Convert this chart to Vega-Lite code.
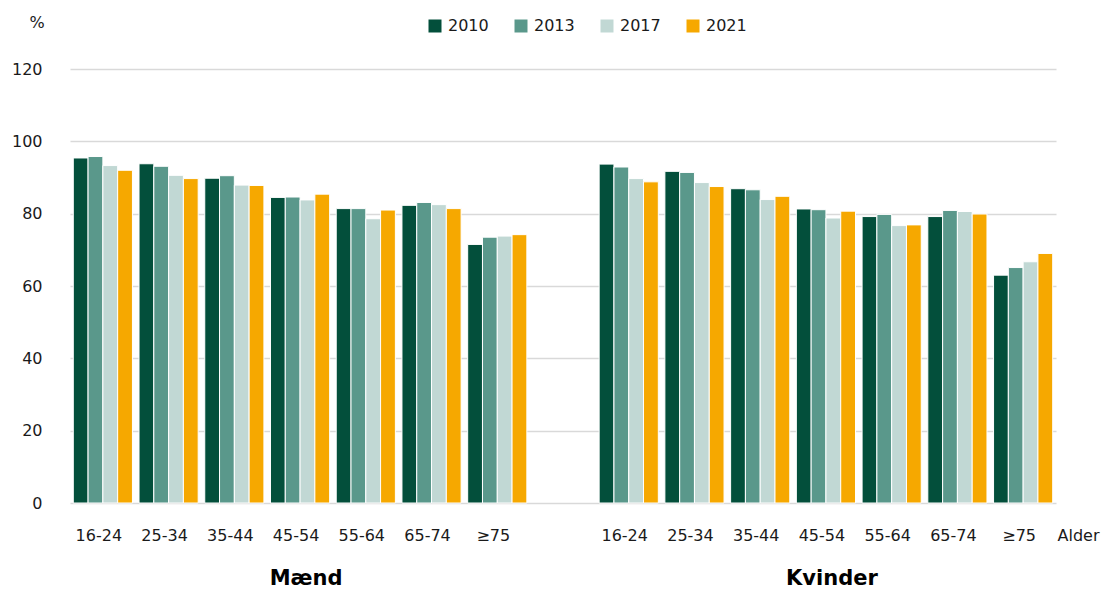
{
  "$schema": "https://vega.github.io/schema/vega-lite/v6.json",
  "width": 986,
  "height": 434,
  "autosize": {"type": "none"},
  "padding": {"left": 70, "top": 69, "right": 51, "bottom": 86},
  "background": "white",
  "config": {
    "font": "DejaVu Sans",
    "view": {"stroke": null},
    "axis": {"labelColor": "#1a1a1a", "titleColor": "#1a1a1a", "labelFont": "DejaVu Sans", "titleFont": "DejaVu Sans"},
    "legend": {"labelFont": "DejaVu Sans"}
  },
  "datasets": {
    "bars": [
      {"slot": "M|16-24", "year": "2010", "value": 95.4},
      {"slot": "M|16-24", "year": "2013", "value": 95.8},
      {"slot": "M|16-24", "year": "2017", "value": 93.3},
      {"slot": "M|16-24", "year": "2021", "value": 92.0},
      {"slot": "M|25-34", "year": "2010", "value": 93.8},
      {"slot": "M|25-34", "year": "2013", "value": 93.1},
      {"slot": "M|25-34", "year": "2017", "value": 90.6},
      {"slot": "M|25-34", "year": "2021", "value": 89.7},
      {"slot": "M|35-44", "year": "2010", "value": 89.8},
      {"slot": "M|35-44", "year": "2013", "value": 90.5},
      {"slot": "M|35-44", "year": "2017", "value": 87.9},
      {"slot": "M|35-44", "year": "2021", "value": 87.8},
      {"slot": "M|45-54", "year": "2010", "value": 84.5},
      {"slot": "M|45-54", "year": "2013", "value": 84.6},
      {"slot": "M|45-54", "year": "2017", "value": 83.8},
      {"slot": "M|45-54", "year": "2021", "value": 85.4},
      {"slot": "M|55-64", "year": "2010", "value": 81.4},
      {"slot": "M|55-64", "year": "2013", "value": 81.4},
      {"slot": "M|55-64", "year": "2017", "value": 78.6},
      {"slot": "M|55-64", "year": "2021", "value": 81.0},
      {"slot": "M|65-74", "year": "2010", "value": 82.3},
      {"slot": "M|65-74", "year": "2013", "value": 83.1},
      {"slot": "M|65-74", "year": "2017", "value": 82.5},
      {"slot": "M|65-74", "year": "2021", "value": 81.4},
      {"slot": "M|≥75", "year": "2010", "value": 71.5},
      {"slot": "M|≥75", "year": "2013", "value": 73.5},
      {"slot": "M|≥75", "year": "2017", "value": 73.8},
      {"slot": "M|≥75", "year": "2021", "value": 74.2},
      {"slot": "K|16-24", "year": "2010", "value": 93.7},
      {"slot": "K|16-24", "year": "2013", "value": 92.9},
      {"slot": "K|16-24", "year": "2017", "value": 89.7},
      {"slot": "K|16-24", "year": "2021", "value": 88.8},
      {"slot": "K|25-34", "year": "2010", "value": 91.7},
      {"slot": "K|25-34", "year": "2013", "value": 91.4},
      {"slot": "K|25-34", "year": "2017", "value": 88.6},
      {"slot": "K|25-34", "year": "2021", "value": 87.5},
      {"slot": "K|35-44", "year": "2010", "value": 86.9},
      {"slot": "K|35-44", "year": "2013", "value": 86.6},
      {"slot": "K|35-44", "year": "2017", "value": 83.9},
      {"slot": "K|35-44", "year": "2021", "value": 84.8},
      {"slot": "K|45-54", "year": "2010", "value": 81.3},
      {"slot": "K|45-54", "year": "2013", "value": 81.1},
      {"slot": "K|45-54", "year": "2017", "value": 78.8},
      {"slot": "K|45-54", "year": "2021", "value": 80.7},
      {"slot": "K|55-64", "year": "2010", "value": 79.2},
      {"slot": "K|55-64", "year": "2013", "value": 79.8},
      {"slot": "K|55-64", "year": "2017", "value": 76.7},
      {"slot": "K|55-64", "year": "2021", "value": 76.9},
      {"slot": "K|65-74", "year": "2010", "value": 79.2},
      {"slot": "K|65-74", "year": "2013", "value": 80.9},
      {"slot": "K|65-74", "year": "2017", "value": 80.6},
      {"slot": "K|65-74", "year": "2021", "value": 79.9},
      {"slot": "K|≥75", "year": "2010", "value": 63.0},
      {"slot": "K|≥75", "year": "2013", "value": 65.1},
      {"slot": "K|≥75", "year": "2017", "value": 66.7},
      {"slot": "K|≥75", "year": "2021", "value": 69.0}
    ],
    "groups": [
      {"slot": "M|45-54", "label": "Mænd"},
      {"slot": "K|45-54", "label": "Kvinder"}
    ]
  },
  "layer": [
    {
      "data": {"name": "bars"},
      "mark": {"type": "bar", "stroke": "white", "strokeWidth": 1},
      "encoding": {
        "x": {
          "field": "slot",
          "type": "nominal",
          "sort": null,
          "scale": {
            "domain": ["M|16-24", "M|25-34", "M|35-44", "M|45-54", "M|55-64", "M|65-74", "M|≥75", "|", "K|16-24", "K|25-34", "K|35-44", "K|45-54", "K|55-64", "K|65-74", "K|≥75"],
            "paddingInner": 0.1,
            "paddingOuter": 0.05
          },
          "axis": {
            "title": "Alder",
            "labelExpr": "split(datum.label, '|')[1]",
            "labelAngle": 0,
            "labelFontSize": 16,
            "labelPadding": 24,
            "labelOffset": -4,
            "domain": false,
            "ticks": false,
            "titleFontSize": 16,
            "titleFontWeight": "normal",
            "titleAnchor": "start",
            "titleAlign": "left",
            "titleBaseline": "middle",
            "titleX": 987,
            "titleY": 32
          }
        },
        "xOffset": {"field": "year", "type": "nominal", "scale": {"paddingInner": 0}},
        "y": {
          "field": "value",
          "type": "quantitative",
          "scale": {"domain": [0, 120], "nice": false},
          "axis": {
            "title": "%",
            "titleAngle": 0,
            "titleFontSize": 16,
            "titleFontWeight": "normal",
            "titleX": -41,
            "titleY": -47,
            "titleAlign": "left",
            "titleBaseline": "middle",
            "values": [0, 20, 40, 60, 80, 100, 120],
            "labelPadding": 28,
            "labelFontSize": 16,
            "domain": false,
            "ticks": false,
            "grid": true,
            "gridColor": "#d9d9d9",
            "gridWidth": 1.5
          }
        },
        "color": {
          "field": "year",
          "type": "nominal",
          "scale": {"domain": ["2010", "2013", "2017", "2021"], "range": ["#034f3b", "#5a988b", "#c1d8d4", "#f6a800"]},
          "legend": {
            "title": null,
            "orient": "none",
            "direction": "horizontal",
            "legendX": 357,
            "legendY": -51,
            "symbolType": "square",
            "symbolSize": 169,
            "symbolStrokeWidth": 0,
            "labelFontSize": 16,
            "labelColor": "#1a1a1a",
            "labelOffset": 5,
            "columnPadding": 24
          }
        }
      }
    },
    {
      "data": {"name": "groups"},
      "mark": {"type": "text", "fontSize": 21, "fontWeight": "bold", "dy": 76, "dx": 6, "baseline": "middle", "color": "#000000", "font": "DejaVu Sans"},
      "encoding": {
        "x": {"field": "slot", "type": "nominal"},
        "y": {"datum": 0},
        "text": {"field": "label"}
      }
    }
  ]
}
